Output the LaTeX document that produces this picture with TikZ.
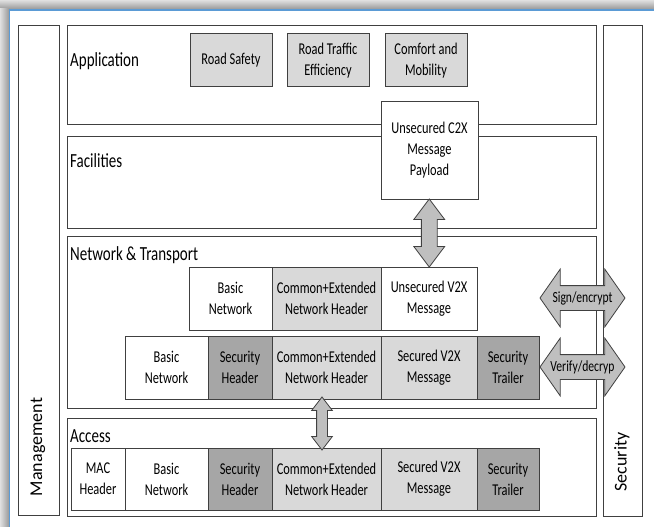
\documentclass[tikz,border=0pt]{standalone}
\usepackage{fontspec}
\setmainfont{Carlito}
\newfontfamily\narrowfont[FakeStretch=0.75]{Carlito}
\usetikzlibrary{positioning,shapes.arrows,calc}
\definecolor{framegray}{HTML}{404040}
\definecolor{lightcell}{HTML}{D9D9D9}
\definecolor{darkcell}{HTML}{A6A6A6}
\definecolor{arrowgray}{HTML}{BFBFBF}
\definecolor{winblue}{HTML}{5B9BD5}
\tikzset{
  layer/.style={draw=framegray,line width=1pt},
  layerlabel/.style={anchor=west,inner sep=0pt,font=\narrowfont\fontsize{20}{24}\selectfont},
  sidelabel/.style={rotate=90,inner sep=0pt,font=\fontsize{18}{22}\selectfont},
  cell/.style={draw=framegray,line width=1pt,outer sep=0pt,inner sep=0pt,minimum height=63pt,
    align=center,font=\narrowfont\fontsize{16.5}{21}\selectfont},
  appbox/.style={cell,fill=lightcell,minimum width=82pt,minimum height=53pt},
  basiccell/.style={cell,fill=white,minimum width=83pt},
  maccell/.style={cell,fill=white,minimum width=54pt},
  sechdr/.style={cell,fill=darkcell,minimum width=64pt},
  commoncell/.style={cell,fill=lightcell,minimum width=109pt},
  msgcell/.style={cell,fill=lightcell,minimum width=96pt},
  trailer/.style={cell,fill=darkcell,minimum width=62pt},
  fatarrow/.style={double arrow,draw=framegray,fill=arrowgray,line width=0.8pt,inner xsep=0pt,outer sep=0pt},
  arrowtext/.style={inner sep=0pt,font=\narrowfont\fontsize{15.5}{18}\selectfont}
}
\begin{document}
\begin{tikzpicture}[x=1pt,y=-1pt]
\useasboundingbox (0,0) rectangle (654,527);
% window frame
\fill[white] (0,0) rectangle (654,527);
\shade[top color=black!12,bottom color=black!40] (0,0) rectangle (654,9);
\shade[left color=black!12,right color=black!40] (0,9) rectangle (9,527);
\draw[winblue,line width=1.5pt] (9.5,527) -- (9.5,10) -- (654,10);
% side columns
\draw[layer] (18,26) rectangle (59,515);
\node[sidelabel] (mgmt) at (38,447) {Management};
\draw[layer] (603,26) rectangle (642,516);
\node[sidelabel] (sec) at (622,462) {Security};
% layers
\draw[layer] (67,26) rectangle (596,125);\node[layerlabel] (app) at (70,61) {Application};
\draw[layer] (67,136) rectangle (596,228);\node[layerlabel] (fac) at (70,161) {Facilities};
\draw[layer] (67,236) rectangle (596,408);\node[layerlabel] (net) at (70,255) {Network \& Transport};
\draw[layer] (67,418) rectangle (596,516);\node[layerlabel] (acc) at (70,436) {Access};
% applications
\node[appbox,anchor=north west] (safety) at (190,34) {Road Safety};
\node[appbox,right=15pt of safety] (traffic) {Road Traffic\\Efficiency};
\node[appbox,right=16pt of traffic] (comfort) {Comfort and\\Mobility};
\node[cell,fill=white,minimum width=97pt,minimum height=97pt,anchor=north west] (payload) at (381,102)
  {Unsecured C2X\\Message\\Payload};
% network & transport, unsecured
\node[basiccell,anchor=north west] (ubasic) at (189,267) {Basic\\Network};
\node[commoncell,right=0pt of ubasic] (ucommon) {Common+Extended\\Network Header};
\node[msgcell,fill=white,right=0pt of ucommon] (umsg) {Unsecured V2X\\Message};
% network & transport, secured
\node[basiccell,anchor=north west] (sbasic) at (125,336) {Basic\\Network};
\node[sechdr,right=0pt of sbasic] (shdr) {Security\\Header};
\node[commoncell,right=0pt of shdr] (scommon) {Common+Extended\\Network Header};
\node[msgcell,right=0pt of scommon] (smsg) {Secured V2X\\Message};
\node[trailer,right=0pt of smsg] (strail) {Security\\Trailer};
% access
\node[maccell,anchor=north west,minimum height=62pt] (amac) at (71,448) {MAC\\Header};
\node[basiccell,right=0pt of amac,minimum height=62pt] (abasic) {Basic\\Network};
\node[sechdr,right=0pt of abasic,minimum height=62pt] (ahdr) {Security\\Header};
\node[commoncell,right=0pt of ahdr,minimum height=62pt] (acommon) {Common+Extended\\Network Header};
\node[msgcell,right=0pt of acommon,minimum height=62pt] (amsg) {Secured V2X\\Message};
\node[trailer,right=0pt of amsg,minimum height=62pt] (atrail) {Security\\Trailer};
% arrows
\node[fatarrow,rotate=90,inner ysep=7.5pt,minimum height=68pt,minimum width=30pt,double arrow head extend=7.5pt,
  double arrow tip angle=74] (updown) at ($(payload.south)!0.5!(umsg.north)$) {};
\node[fatarrow,rotate=90,inner ysep=5pt,minimum height=53pt,minimum width=20pt,double arrow head extend=5pt,
  double arrow tip angle=75] (netacc) at ($(scommon.south)!0.5!(acommon.north)+(-4.5,0)$) {};
\node[fatarrow,inner ysep=12pt,minimum height=85pt,minimum width=57pt,double arrow head extend=16.5pt,
  double arrow tip angle=110] (sign) at (582.5,298) {};
\node[arrowtext] (signtxt) at (sign) {Sign/encrypt};
\node[fatarrow,inner ysep=12pt,minimum height=85pt,minimum width=57pt,double arrow head extend=16.5pt,
  double arrow tip angle=110] (verify) at (582.5,367) {};
\node[arrowtext] (verifytxt) at (verify) {Verify/decryp};
\end{tikzpicture}
\end{document}
